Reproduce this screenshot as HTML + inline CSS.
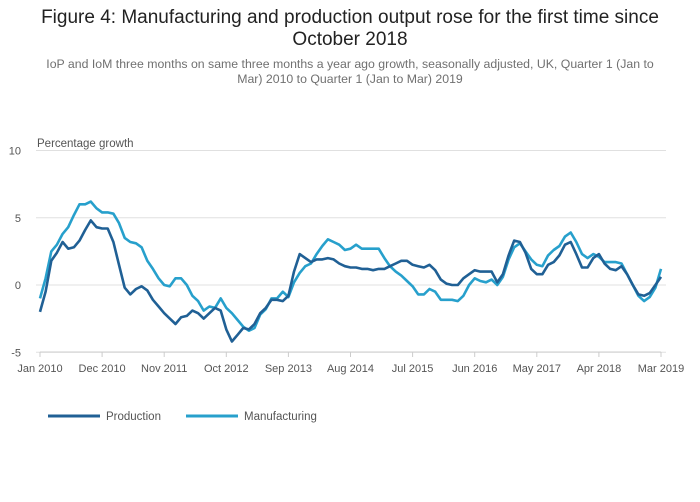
<!DOCTYPE html>
<html><head><meta charset="utf-8"><style>
body{margin:0;background:#fff;width:700px;height:502px;overflow:hidden;font-family:"Liberation Sans",sans-serif;}
#title{position:absolute;left:25px;width:650px;top:7px;text-align:center;font-size:19px;color:#222;line-height:22px;}
#sub{position:absolute;left:37px;width:626px;top:57px;text-align:center;font-size:12.3px;color:#707070;line-height:15px;}
svg{position:absolute;left:0;top:0;}
</style></head><body>
<div id="title">Figure 4: Manufacturing and production output rose for the first time since October 2018</div>
<div id="sub">IoP and IoM three months on same three months a year ago growth, seasonally adjusted, UK, Quarter 1 (Jan to Mar) 2010 to Quarter 1 (Jan to Mar) 2019</div>
<svg id="chart" width="700" height="502"></svg>
<script>
const xTickLabels=["Jan 2010","Dec 2010","Nov 2011","Oct 2012","Sep 2013","Aug 2014","Jul 2015","Jun 2016","May 2017","Apr 2018","Mar 2019"];
const xTickIndex=[0,11,22,33,44,55,66,77,88,99,110];
const yTicks=[-5,0,5,10];
const production=[-2.0,-0.5,1.8,2.4,3.2,2.7,2.8,3.3,4.1,4.8,4.3,4.2,4.2,3.2,1.5,-0.2,-0.7,-0.3,-0.1,-0.4,-1.1,-1.6,-2.1,-2.5,-2.9,-2.4,-2.3,-1.9,-2.1,-2.5,-2.1,-1.7,-1.9,-3.3,-4.2,-3.7,-3.2,-3.3,-2.9,-2.1,-1.7,-1.1,-1.1,-1.2,-0.8,1.0,2.3,2.0,1.7,1.9,1.9,2.0,1.9,1.6,1.4,1.3,1.3,1.2,1.2,1.1,1.2,1.2,1.4,1.6,1.8,1.8,1.5,1.4,1.3,1.5,1.1,0.4,0.1,0.0,0.0,0.5,0.8,1.1,1.0,1.0,1.0,0.2,0.8,2.2,3.3,3.2,2.4,1.2,0.8,0.8,1.5,1.7,2.2,3.0,3.2,2.3,1.3,1.3,2.0,2.3,1.6,1.2,1.1,1.4,0.8,0.0,-0.7,-0.8,-0.6,0.0,0.6];
const manufacturing=[-1.0,0.5,2.5,3.0,3.8,4.3,5.2,6.0,6.0,6.2,5.7,5.4,5.4,5.3,4.6,3.5,3.2,3.1,2.8,1.8,1.2,0.5,0.0,-0.1,0.5,0.5,0.0,-0.8,-1.2,-1.9,-1.6,-1.7,-1.0,-1.7,-2.1,-2.6,-3.1,-3.4,-3.2,-2.2,-1.8,-1.0,-1.0,-0.5,-0.9,0.2,0.9,1.4,1.6,2.3,2.9,3.4,3.2,3.0,2.6,2.7,3.0,2.7,2.7,2.7,2.7,2.0,1.4,1.0,0.7,0.3,-0.1,-0.7,-0.7,-0.3,-0.5,-1.1,-1.1,-1.1,-1.2,-0.8,0.0,0.5,0.3,0.2,0.4,0.0,0.6,1.9,2.8,3.1,2.5,1.9,1.5,1.4,2.2,2.6,2.9,3.6,3.9,3.2,2.3,2.0,2.3,2.1,1.7,1.7,1.7,1.6,0.8,0.0,-0.8,-1.2,-0.9,-0.2,1.2];
const X0=40,X1=661,Y0=285,PU=13.45;
const xs=i=>X0+(X1-X0)*i/(production.length-1);
const ys=v=>Y0-v*PU;
const svg=document.getElementById('chart');const NS='http://www.w3.org/2000/svg';
function mk(t,a,p){const e=document.createElementNS(NS,t);for(const k in a)e.setAttribute(k,a[k]);(p||svg).appendChild(e);return e;}
yTicks.forEach(v=>{
 const g=mk('line',{x1:36,x2:X1+5,y1:ys(v),y2:ys(v),stroke:'#e0e0e0','stroke-width':1});
 
 
 const t=mk('text',{x:21,y:ys(v)+4,'text-anchor':'end','font-size':11,fill:'#555','font-family':'Liberation Sans, sans-serif'});t.textContent=v;
 
 
});
const yt=mk('text',{x:37,y:147,'font-size':11.5,fill:'#555','font-family':'Liberation Sans, sans-serif'});yt.textContent='Percentage growth';


const ax=mk('line',{x1:X0,x2:X1,y1:352,y2:352,stroke:'#ccc'});


xTickIndex.forEach((ix,k)=>{
 const tk=mk('line',{x1:xs(ix),x2:xs(ix),y1:352,y2:357,stroke:'#ccc'});
 
 
 const t=mk('text',{x:xs(ix),y:372,'text-anchor':'middle','font-size':11,fill:'#555','font-family':'Liberation Sans, sans-serif'});t.textContent=xTickLabels[k];
 
 
});
function line(data,color,name){
 const p=mk('path',{d:data.map((v,i)=>(i?'L':'M')+xs(i).toFixed(1)+','+ys(v).toFixed(1)).join(''),fill:'none',stroke:color,'stroke-width':2.6,'stroke-linejoin':'round'});
 
 
}
line(manufacturing,'#27a0cc','manufacturing-line');
line(production,'#206095','production-line');
[['Production','#206095',48],['Manufacturing','#27a0cc',186]].forEach(([n,c,x])=>{
 const g=mk('g',{});
 
 
 mk('line',{x1:x,x2:x+52,y1:416,y2:416,stroke:c,'stroke-width':3},g);
 const t=mk('text',{x:x+58,y:420,'font-size':11.5,fill:'#555','font-family':'Liberation Sans, sans-serif'},g);t.textContent=n;
});
</script>
</body></html>
